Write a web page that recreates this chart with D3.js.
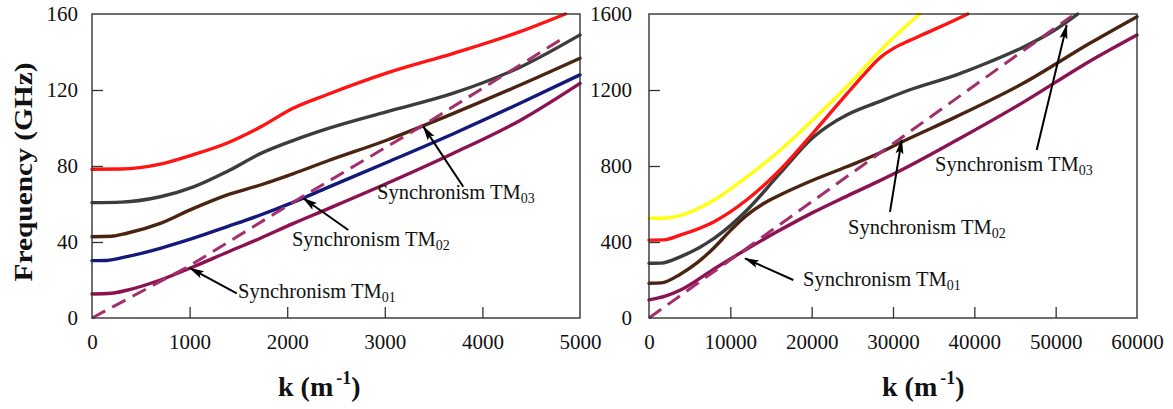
<!DOCTYPE html>
<html>
<head>
<meta charset="utf-8">
<script src="https://cdn.jsdelivr.net/npm/d3@7"></script>
<style>
  body { margin: 0; background: #fff; }
  svg { display: block; }
  .tick text { font-family: "Liberation Serif", "Times New Roman", serif; font-size: 21px; fill: #111; }
  .tick line { stroke: #333; stroke-width: 1.3; }
</style>
</head>
<body>
<script>
// ---- data: [k (1/m), frequency (GHz)] ----

// left panel, k 0..5000
var leftRed    = [[0,78.3],[300,78.4],[700,81],[1040,86],[1380,92],[1725,100.5],[2065,110.5],[2405,117.5],[3025,129],[3703,139.3],[4386,150.7],[4850,160]];
var leftGray   = [[0,60.7],[300,61],[700,63.8],[1040,69],[1380,77],[1725,86.5],[2065,93.5],[2405,99.5],[3025,108.6],[3703,118.3],[4386,132],[5000,149]];
var leftBrown  = [[0,42.8],[200,43],[357,44.6],[700,49.8],[1040,57.7],[1380,64.7],[1725,70],[2065,76],[2405,82.5],[3025,93.7],[3703,107.7],[4386,122.6],[5000,136.7]];
var leftBlue   = [[0,30.2],[150,30.3],[357,32.3],[700,36.7],[1040,42],[1380,48],[1725,54.2],[2065,61],[2405,68.5],[3025,82],[3703,97],[4386,113],[5000,128]];
var leftPurple = [[0,12.6],[200,13],[357,14.6],[700,20],[1040,27],[1380,34.5],[1725,42],[2065,49.8],[2405,57.2],[3025,70.9],[3703,86.7],[4386,104],[5000,123.5]];
var leftBeam   = [[0,0],[1000,27.5],[2160,64],[3395,101.5],[4850,148]];

// right panel, k 0..60000
var rightYellow = [[0,525],[1800,525],[3900,540],[8000,621],[12000,742],[16100,882],[20200,1045],[24300,1217],[28400,1405],[32000,1552],[33300,1600]];
var rightRed    = [[0,410],[1800,411],[3900,437],[8000,507],[12000,621],[16100,779],[20200,975],[24300,1178],[26500,1285],[28400,1370],[30000,1418],[32000,1460],[34000,1498],[36500,1546],[39200,1600]];
var rightGray   = [[0,288],[1500,289],[3900,323],[8000,419],[12000,566],[16100,761],[20200,952],[22000,1010],[24300,1068],[28400,1140],[32000,1200],[37800,1280],[42000,1350],[46000,1425],[49500,1505],[52700,1600]];
var rightBrown  = [[0,183],[1500,185],[3900,232],[5900,290],[8000,370],[10000,460],[12000,540],[14000,600],[16100,647],[20200,726],[24300,796],[28400,870],[31000,925],[37800,1060],[46000,1235],[54200,1446],[60000,1586]];
var rightPurple = [[0,95],[2000,115],[4000,150],[8000,258],[12000,362],[16000,460],[20000,552],[24000,635],[28000,715],[32000,800],[37800,935],[46000,1135],[54100,1349],[60000,1489]];
var rightBeam   = [[0,0],[52000,1590]];

// tick values
var leftKTicks  = [0, 1000, 2000, 3000, 4000, 5000];
var leftFTicks  = [0, 40, 80, 120, 160];
var rightKTicks = [0, 10000, 20000, 30000, 40000, 50000, 60000];
var rightFTicks = [0, 400, 800, 1200, 1600];

// annotations: text anchor + arrow (tail -> head), in data units
var leftNotes = [
  { label: "Synchronism TM", sub: "01", at: [1496, 10.5], from: [1483, 13],   to: [1004, 26.2] },
  { label: "Synchronism TM", sub: "02", at: [2049, 37.9], from: [2626, 46.3], to: [2165, 63] },
  { label: "Synchronism TM", sub: "03", at: [2920, 62.6], from: [3804, 69.1], to: [3395, 100.7] }
];
var rightNotes = [
  { label: "Synchronism TM", sub: "01", at: [18935, 168], from: [17740, 200], to: [11800, 314] },
  { label: "Synchronism TM", sub: "02", at: [24470, 442], from: [29630, 559], to: [31070, 937] },
  { label: "Synchronism TM", sub: "03", at: [35165, 774], from: [47670, 884], to: [51360, 1542] }
];

var width = 1173, height = 409,
    plotTop = 14, plotBottom = 318,
    serif = '"Liberation Serif", "Times New Roman", serif';

var colors = {
  red: '#ff1414', gray: '#3c3c3c', brown: '#4a2410', blue: '#141a7a',
  purple: '#8c1252', beam: '#a32f6c', yellow: '#ffff14'
};

var svg = d3.select('body').append('svg')
    .attr('width', width)
    .attr('height', height);

// arrow head
svg.append('defs').append('marker')
    .attr('id', 'head')
    .attr('markerUnits', 'userSpaceOnUse')
    .attr('markerWidth', 16).attr('markerHeight', 10)
    .attr('refX', 14).attr('refY', 5)
    .attr('orient', 'auto')
  .append('path')
    .attr('d', 'M0,1 L15,5 L0,9 L3,5 z')
    .attr('fill', '#000');

function panel(opt) {
    var x = d3.scaleLinear().domain([0, opt.kMax]).range([opt.left, opt.right]);
    var y = d3.scaleLinear().domain([0, opt.fMax]).range([plotBottom, plotTop]);
    var g = svg.append('g');

    var line = d3.line()
        .x(function(d) { return x(d[0]); })
        .y(function(d) { return y(d[1]); })
        .curve(d3.curveMonotoneX);

    // solid curves
    opt.series.forEach(function(s) {
        g.append('path')
            .datum(s.data)
            .attr('d', line)
            .attr('fill', 'none')
            .attr('stroke', s.color)
            .attr('stroke-width', 3.4)
            .attr('stroke-linecap', 'round');
    });

    // beam line (dashed)
    g.append('path')
        .datum(opt.beam)
        .attr('d', line.curve(d3.curveLinear))
        .attr('fill', 'none')
        .attr('stroke', colors.beam)
        .attr('stroke-width', 3)
        .attr('stroke-dasharray', '15,8');

    // axes, ticks inward
    var xAxis = g.append('g')
        .attr('transform', 'translate(0,' + plotBottom + ')')
        .call(d3.axisBottom(x).tickValues(opt.kTicks).tickFormat(d3.format('d'))
            .tickSizeInner(-11).tickSizeOuter(0).tickPadding(16));
    xAxis.select('.domain').remove();
    xAxis.selectAll('.tick').filter(function(d) { return d === 0 || d === opt.kMax; }).select('line').remove();

    var yAxis = g.append('g')
        .attr('transform', 'translate(' + opt.left + ',0)')
        .call(d3.axisLeft(y).tickValues(opt.fTicks).tickFormat(d3.format('d'))
            .tickSizeInner(-11).tickSizeOuter(0).tickPadding(opt.yPad));
    yAxis.select('.domain').remove();
    yAxis.selectAll('.tick').filter(function(d) { return d === 0 || d === opt.fMax; }).select('line').remove();

    // frame
    g.append('rect')
        .attr('x', opt.left).attr('y', plotTop)
        .attr('width', opt.right - opt.left).attr('height', plotBottom - plotTop)
        .attr('fill', 'none')
        .attr('stroke', '#333')
        .attr('stroke-width', 1.4);

    // annotations
    opt.notes.forEach(function(n) {
        g.append('line')
            .attr('x1', x(n.from[0])).attr('y1', y(n.from[1]))
            .attr('x2', x(n.to[0])).attr('y2', y(n.to[1]))
            .attr('stroke', '#000')
            .attr('stroke-width', 2)
            .attr('marker-end', 'url(#head)');
        var t = g.append('text')
            .attr('x', x(n.at[0])).attr('y', y(n.at[1]))
            .attr('font-family', serif)
            .attr('font-size', 20.5)
            .attr('fill', '#111');
        t.append('tspan').text(n.label);
        t.append('tspan').attr('font-size', 14).attr('dy', 4).text(n.sub);
    });

    // x label
    var xl = g.append('text')
        .attr('x', opt.xLabelX).attr('y', 396)
        .attr('font-family', serif)
        .attr('font-weight', 'bold')
        .attr('font-size', 28)
        .attr('fill', '#111');
    xl.append('tspan').text('k (m');
    xl.append('tspan').attr('font-size', 18).attr('dx', 3).attr('dy', -12).text('-1');
    xl.append('tspan').attr('dy', 12).text(')');
}

panel({
    left: 92, right: 580, kMax: 5000, fMax: 160,
    kTicks: leftKTicks, fTicks: leftFTicks, yPad: 14,
    series: [
        { data: leftRed, color: colors.red },
        { data: leftGray, color: colors.gray },
        { data: leftBrown, color: colors.brown },
        { data: leftBlue, color: colors.blue },
        { data: leftPurple, color: colors.purple }
    ],
    beam: leftBeam, notes: leftNotes, xLabelX: 278
});

panel({
    left: 649, right: 1137, kMax: 60000, fMax: 1600,
    kTicks: rightKTicks, fTicks: rightFTicks, yPad: 17,
    series: [
        { data: rightPurple, color: colors.purple },
        { data: rightBrown, color: colors.brown },
        { data: rightGray, color: colors.gray },
        { data: rightYellow, color: colors.yellow },
        { data: rightRed, color: colors.red }
    ],
    beam: rightBeam, notes: rightNotes, xLabelX: 882
});

// y label
svg.append('text')
    .attr('transform', 'translate(32,172) rotate(-90)')
    .attr('text-anchor', 'middle')
    .attr('font-family', serif)
    .attr('font-weight', 'bold')
    .attr('font-size', 26)
    .attr('textLength', 219)
    .attr('lengthAdjust', 'spacingAndGlyphs')
    .attr('fill', '#111')
    .text('Frequency (GHz)');
</script>
</body>
</html>
